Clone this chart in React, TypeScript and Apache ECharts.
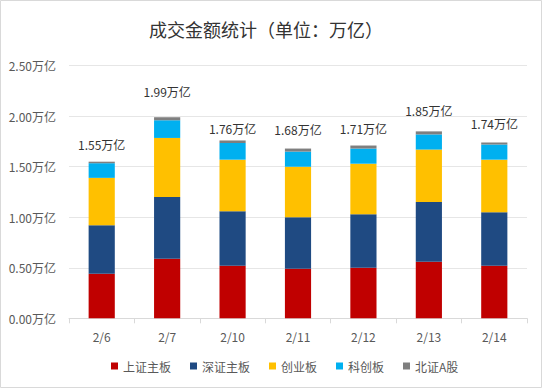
import React, { useEffect, useRef } from "react";
import * as echarts from "echarts";

const categories = ["2/6", "2/7", "2/10", "2/11", "2/12", "2/13", "2/14"];
const shMain = [0.44, 0.59, 0.52, 0.49, 0.5, 0.56, 0.52];
const szMain = [0.48, 0.61, 0.54, 0.51, 0.53, 0.59, 0.53];
const gem = [0.47, 0.585, 0.51, 0.5, 0.5, 0.52, 0.52];
const star = [0.145, 0.175, 0.165, 0.15, 0.15, 0.15, 0.15];
const bse = [0.015, 0.03, 0.025, 0.03, 0.03, 0.03, 0.02];
const totals = [1.55, 1.99, 1.76, 1.68, 1.71, 1.85, 1.74];
const seriesNames = ["上证主板", "深证主板", "创业板", "科创板", "北证A股"];
const yTicks = { min: 0, max: 2.5, interval: 0.5 };

// style: gap (px) between each total label and its bar, as placed in the original
const LABEL_GAPS = [11.5, 20, 6, 13, 11, 14.5, 13];

const FONT = '"Noto Sans CJK SC", "Noto Sans", sans-serif';
const COLORS = ["#C00000", "#1F4A82", "#FFC000", "#00B0F0", "#7F7F7F"];

export default function App() {
  const ref = useRef<HTMLDivElement>(null);
  useEffect(() => {
    if (!ref.current) return;
    const chart = echarts.init(ref.current, undefined, { renderer: "svg" });
    const dataSets = [shMain, szMain, gem, star, bse];
    const last = dataSets.length - 1;
    const series: any[] = dataSets.map((d, i) => ({
      name: seriesNames[i],
      type: "bar",
      stack: "total",
      barWidth: "40%",
      data:
        i === last
          ? d.map((v, j) => ({ value: v, label: { distance: LABEL_GAPS[j] } }))
          : d,
      itemStyle: { color: COLORS[i] },
      label:
        i === last
          ? {
              show: true,
              position: "top",
              distance: 12,
              color: "#333333",
              fontSize: 12,
              fontFamily: FONT,
              formatter: (p: any) => totals[p.dataIndex].toFixed(2) + "万亿",
            }
          : { show: false },
    }));
    chart.setOption({
      animation: false,
      color: COLORS,
      textStyle: { fontFamily: FONT },
      title: {
        text: "成交金额统计（单位：万亿）",
        left: 144,
        top: 15,
        textStyle: { fontSize: 18, fontWeight: "normal", color: "#333333", fontFamily: FONT },
      },
      legend: {
        data: seriesNames,
        left: 111,
        top: 360,
        padding: 0,
        itemWidth: 7,
        itemHeight: 7,
        itemGap: 19,
        icon: "rect",
        textStyle: { fontSize: 12, color: "#595959", fontFamily: FONT },
      },
      grid: { left: 69, right: 15, top: 65.7, bottom: 69.7 },
      xAxis: {
        type: "category",
        data: categories,
        axisLine: { lineStyle: { color: "#d9d9d9" } },
        axisTick: { show: true, length: 5, lineStyle: { color: "#d9d9d9" } },
        axisLabel: { color: "#595959", fontSize: 12, margin: 12, fontFamily: FONT },
      },
      yAxis: {
        type: "value",
        min: yTicks.min,
        max: yTicks.max,
        interval: yTicks.interval,
        axisLine: { show: false },
        axisTick: { show: false },
        splitLine: { lineStyle: { color: "#e6e6e6" } },
        axisLabel: {
          color: "#595959",
          fontSize: 12,
          margin: 13,
          fontFamily: FONT,
          formatter: (v: number) => v.toFixed(2) + "万亿",
        },
      },
      graphic: [
        {
          type: "rect",
          shape: { x: 0.5, y: 0.5, width: 541, height: 387 },
          style: { fill: "none", stroke: "#d9d9d9", lineWidth: 1 },
          silent: true,
        },
      ],
      series,
    });
    return () => chart.dispose();
  }, []);
  return (
    <div
      ref={ref}
      style={{ position: "absolute", left: 0, top: 0, width: 542, height: 388, background: "#ffffff" }}
    />
  );
}
